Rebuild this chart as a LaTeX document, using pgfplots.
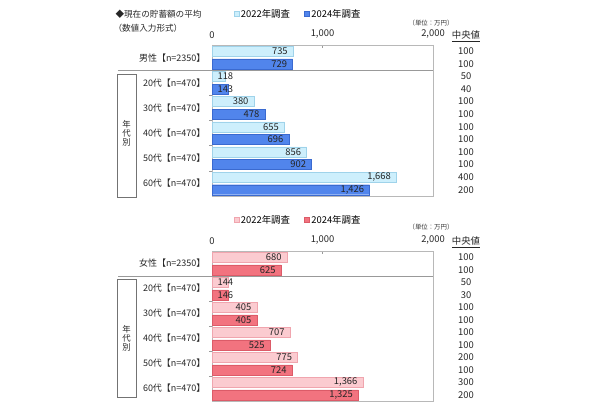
\documentclass[border=0pt]{standalone}
\usepackage{fontspec}
\setmainfont{Noto Sans CJK JP}
\usepackage{pgfplots}
\usepackage{pgfplotstable}
\pgfplotsset{compat=1.18}
\definecolor{b22}{HTML}{CDEFFC}
\definecolor{b22d}{HTML}{9FD3EA}
\definecolor{b24}{HTML}{5185EC}
\definecolor{b24d}{HTML}{3A6AD0}
\definecolor{r22}{HTML}{FBCBD0}
\definecolor{r22d}{HTML}{F0A5AE}
\definecolor{r24}{HTML}{F2737F}
\definecolor{r24d}{HTML}{DC5B68}

% g: position from bottom (5 = total row at top)
\pgfplotstableread{
g v22 v24 m22 m24
5 735 729 100 100
4 118 143 50 40
3 380 478 100 100
2 655 696 100 100
1 856 902 100 100
0 1668 1426 400 200
}\men
\pgfplotstableread{
g v22 v24 m22 m24
5 680 625 100 100
4 144 146 50 30
3 405 405 100 100
2 707 525 100 100
1 775 724 200 100
0 1366 1325 300 200
}\women

\newcommand{\lab}{\fontsize{9.4}{10}\selectfont}
\pgfplotsset{
 sav/.style={
  scale only axis, width=221pt,
  xmin=0, xmax=2000, ymin=-0.5, ymax=5.5,
  clip=false,
  axis line style={draw=black!28},
  tick style={draw=black!40, line width=0.5pt},
  tick align=outside, major tick length=3pt,
  xtick={0,1000,2000}, xtick pos=right, xticklabel pos=right,
  xtick style={yshift=-3pt},
  ytick={0.5,1.5,2.5,3.5}, yticklabels={}, ytick pos=left,
  extra y ticks={0,1,2,3,4,5},
  extra y tick style={major tick length=0pt},
  tick label style={font=\lab, text=black!85},
  yticklabel style={xshift=-3pt, font=\fontsize{9}{10}\selectfont},
  /pgf/number format/1000 sep={,},
  /pgf/number format/assume math mode=true,
  legend columns=2,
  legend style={draw=none, fill=none, font=\lab, anchor=center,
    at={(axis description cs:0.389,1)}, yshift=31pt,
    /tikz/every even column/.append style={column sep=12pt}},
  nodes near coords style={font=\lab, text=black!85},
 },
 sq/.style={legend image code/.code={\draw[##1, line width=0.4pt] (0pt,-2.5pt) rectangle (5pt,2.5pt);}},
}

\begin{document}
\begin{tikzpicture}[x=1pt,y=1pt]
\useasboundingbox (0,0) rectangle (600,413);
\node[anchor=west, font=\fontsize{8.6}{9}\selectfont, text=black!85] at (112,399) {◆現在の貯蓄額の平均};
\node[anchor=west, font=\fontsize{8.6}{9}\selectfont, text=black!85] at (110,385) {（数値入力形式）};

% ---------- top: men ----------
\begin{axis}[sav, height=151pt, at={(212pt,217pt)}, anchor=south west,
  extra y tick labels={60代【n=470】,50代【n=470】,40代【n=470】,30代【n=470】,20代【n=470】,男性【n=2350】}]
\addplot[xbar, bar width=10pt, bar shift=0pt, fill=b22, draw=b22d, line width=0.4pt, sq]
  table[x=v22, y expr=\thisrow{g}+0.25]{\men};
\addlegendentry{2022年調査}
\addplot[xbar, bar width=10pt, bar shift=0pt, fill=b24, draw=b24d, line width=0.4pt, sq]
  table[x=v24, y expr=\thisrow{g}-0.25]{\men};
\addlegendentry{2024年調査}
% value labels
\addplot[draw=none, mark=none, forget plot, nodes near coords, point meta=x,
  nodes near coords style={anchor=east, xshift=-2pt}, restrict x to domain=250:3000]
  table[x=v22, y expr=\thisrow{g}+0.25]{\men};
\addplot[draw=none, mark=none, forget plot, nodes near coords, point meta=x,
  nodes near coords style={anchor=east, xshift=-2pt}, restrict x to domain=250:3000]
  table[x=v24, y expr=\thisrow{g}-0.25]{\men};
\addplot[draw=none, mark=none, forget plot, nodes near coords, point meta=\thisrow{v22},
  nodes near coords style={anchor=west, xshift=2pt}, restrict expr to domain={\thisrow{v22}}{0:249}]
  table[x expr=0, y expr=\thisrow{g}+0.25]{\men};
\addplot[draw=none, mark=none, forget plot, nodes near coords, point meta=\thisrow{v24},
  nodes near coords style={anchor=west, xshift=2pt}, restrict expr to domain={\thisrow{v24}}{0:249}]
  table[x expr=0, y expr=\thisrow{g}-0.25]{\men};
% medians
\addplot[draw=none, mark=none, forget plot, nodes near coords, point meta=\thisrow{m22},
  nodes near coords style={anchor=center, xshift=33pt}]
  table[x expr=2000, y expr=\thisrow{g}+0.25]{\men};
\addplot[draw=none, mark=none, forget plot, nodes near coords, point meta=\thisrow{m24},
  nodes near coords style={anchor=center, xshift=33pt}]
  table[x expr=2000, y expr=\thisrow{g}-0.25]{\men};
\draw[black!40, line width=0.5pt] ([xshift=-94pt]axis cs:0,4.5) -- (axis cs:2000,4.5);
\draw[black!55, line width=0.6pt] ([xshift=-95pt]axis cs:0,4.35) rectangle ([xshift=-76pt]axis cs:0,-0.54);
\node[font=\fontsize{8.4}{8.8}\selectfont, align=center, text=black!85] at ([xshift=-85.5pt]axis cs:0,2) {年\\代\\別};
\node[font=\lab, text=black!85] at ([xshift=33pt,yshift=9pt]axis description cs:1,1) {\underline{中央値}};
\node[font=\fontsize{6.4}{7}\selectfont, text=black!80] at ([xshift=-2pt,yshift=22pt]axis description cs:1,1) {（単位：万円）};
\end{axis}

% ---------- bottom: women ----------
\begin{axis}[sav, height=150pt, at={(212pt,12pt)}, anchor=south west,
  extra y tick labels={60代【n=470】,50代【n=470】,40代【n=470】,30代【n=470】,20代【n=470】,女性【n=2350】}]
\addplot[xbar, bar width=10pt, bar shift=0pt, fill=r22, draw=r22d, line width=0.4pt, sq]
  table[x=v22, y expr=\thisrow{g}+0.25]{\women};
\addlegendentry{2022年調査}
\addplot[xbar, bar width=10pt, bar shift=0pt, fill=r24, draw=r24d, line width=0.4pt, sq]
  table[x=v24, y expr=\thisrow{g}-0.25]{\women};
\addlegendentry{2024年調査}
\addplot[draw=none, mark=none, forget plot, nodes near coords, point meta=x,
  nodes near coords style={anchor=east, xshift=-2pt}, restrict x to domain=250:3000]
  table[x=v22, y expr=\thisrow{g}+0.25]{\women};
\addplot[draw=none, mark=none, forget plot, nodes near coords, point meta=x,
  nodes near coords style={anchor=east, xshift=-2pt}, restrict x to domain=250:3000]
  table[x=v24, y expr=\thisrow{g}-0.25]{\women};
\addplot[draw=none, mark=none, forget plot, nodes near coords, point meta=\thisrow{v22},
  nodes near coords style={anchor=west, xshift=2pt}, restrict expr to domain={\thisrow{v22}}{0:249}]
  table[x expr=0, y expr=\thisrow{g}+0.25]{\women};
\addplot[draw=none, mark=none, forget plot, nodes near coords, point meta=\thisrow{v24},
  nodes near coords style={anchor=west, xshift=2pt}, restrict expr to domain={\thisrow{v24}}{0:249}]
  table[x expr=0, y expr=\thisrow{g}-0.25]{\women};
\addplot[draw=none, mark=none, forget plot, nodes near coords, point meta=\thisrow{m22},
  nodes near coords style={anchor=center, xshift=33pt}]
  table[x expr=2000, y expr=\thisrow{g}+0.25]{\women};
\addplot[draw=none, mark=none, forget plot, nodes near coords, point meta=\thisrow{m24},
  nodes near coords style={anchor=center, xshift=33pt}]
  table[x expr=2000, y expr=\thisrow{g}-0.25]{\women};
\draw[black!40, line width=0.5pt] ([xshift=-94pt]axis cs:0,4.5) -- (axis cs:2000,4.5);
\draw[black!55, line width=0.6pt] ([xshift=-95pt]axis cs:0,4.38) rectangle ([xshift=-76pt]axis cs:0,-0.34);
\node[font=\fontsize{8.4}{8.8}\selectfont, align=center, text=black!85] at ([xshift=-85.5pt]axis cs:0,2) {年\\代\\別};
\node[font=\lab, text=black!85] at ([xshift=33pt,yshift=9pt]axis description cs:1,1) {\underline{中央値}};
\node[font=\fontsize{6.4}{7}\selectfont, text=black!80] at ([xshift=-2pt,yshift=24pt]axis description cs:1,1) {（単位：万円）};
\end{axis}
\end{tikzpicture}
\end{document}
